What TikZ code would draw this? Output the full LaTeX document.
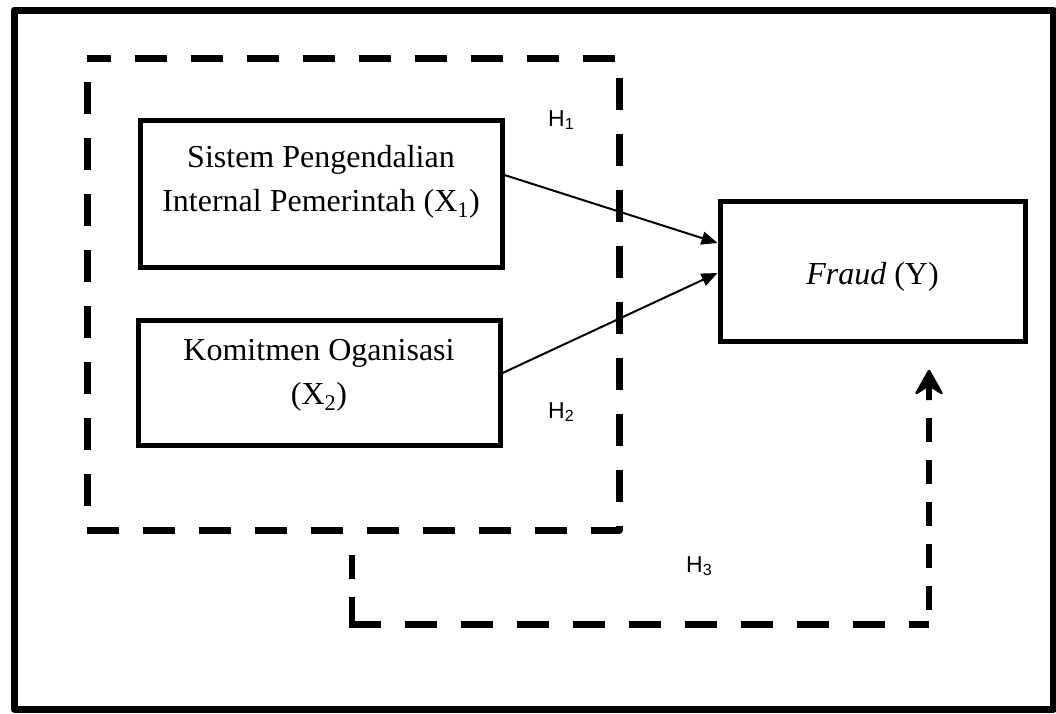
\documentclass[tikz,border=0pt]{standalone}
\usepackage{fontspec}
\setmainfont{Liberation Serif}
\newfontfamily\arialf{Liberation Sans}
\usetikzlibrary{arrows.meta,calc}
\tikzset{
  box/.style={draw=black, line width=5pt, rectangle, inner sep=0pt},
  btxt/.style={anchor=base, inner sep=0pt, font=\fontsize{32}{38}\selectfont},
  hlab/.style={anchor=base west, inner sep=0pt, font=\arialf\fontsize{23}{27}\selectfont},
  conn/.style={line width=2pt, -{Triangle[length=16pt,width=13pt]}},
  bigdash/.style={line width=7pt, dash pattern=on 32pt off 24pt, dash phase=8pt},
  hdash/.style={line width=7pt, dash pattern=on 32pt off 24pt},
  vdash/.style={line width=6.5pt, dash pattern=on 24pt off 18pt},
  headfill/.style={fill=black, draw=black, line width=2.5pt, line join=round},
}
\begin{document}
\begin{tikzpicture}[x=1pt, y=-1pt]
\useasboundingbox (0,0) rectangle (1056,713);
% outer frame
\draw[line width=7pt, line join=round] (14,10) rectangle (1053,709);
% dashed group box
\draw[bigdash, line join=round] (87,58) -- (619,58) -- (619,530) -- (87,530) -- cycle;
% boxes
\node[box, minimum width=362pt, minimum height=147pt] (b1) at (321,193.5) {};
\node[box, minimum width=362pt, minimum height=125pt] (b2) at (319,382.5) {};
\node[box, minimum width=305pt, minimum height=140pt] (f) at (872.5,271) {};
% texts
\node[btxt] (t1a) at (321,167) {Sistem Pengendalian};
\node[btxt] (t1b) at (321,211) {Internal Pemerintah (X\textsubscript{1})};
\node[btxt] (t2a) at (319,360) {Komitmen Oganisasi};
\node[btxt] (t2b) at (319,404) {(X\textsubscript{2})};
\node[btxt] (tf) at (872.5,284) {\textit{Fraud} (Y)};
% hypothesis labels
\node[hlab] (h1) at (548,126) {H\textsubscript{1}};
\node[hlab] (h2) at (548,418) {H\textsubscript{2}};
\node[hlab] (h3) at (686,572) {H\textsubscript{3}};
% arrows
\draw[conn] ([yshift=18.5pt]b1.east) -- ([yshift=28pt]f.west);
\draw[conn] ([yshift=9.5pt]b2.east) -- ([yshift=-2pt]f.west);
% H3 path
\coordinate (h3s) at (352,555);
\coordinate (h3c1) at (352,627.5);
\coordinate (h3c2) at (929,624);
\coordinate (h3m) at (929,400);
\coordinate (h3e) at (929,371);
\draw[vdash] (h3s) -- (h3c1);
\draw[hdash] (348.5,624) -- (h3c2);
\draw[vdash, dash phase=28pt] (h3c2) -- (h3m);
\draw[line width=6.5pt] (h3m) -- ([yshift=-14pt]h3e);
\filldraw[headfill] (h3e) -- ++(12.5,22) -- ++(-12.5,-8) -- ++(-12.5,8) -- cycle;
\end{tikzpicture}
\end{document}
